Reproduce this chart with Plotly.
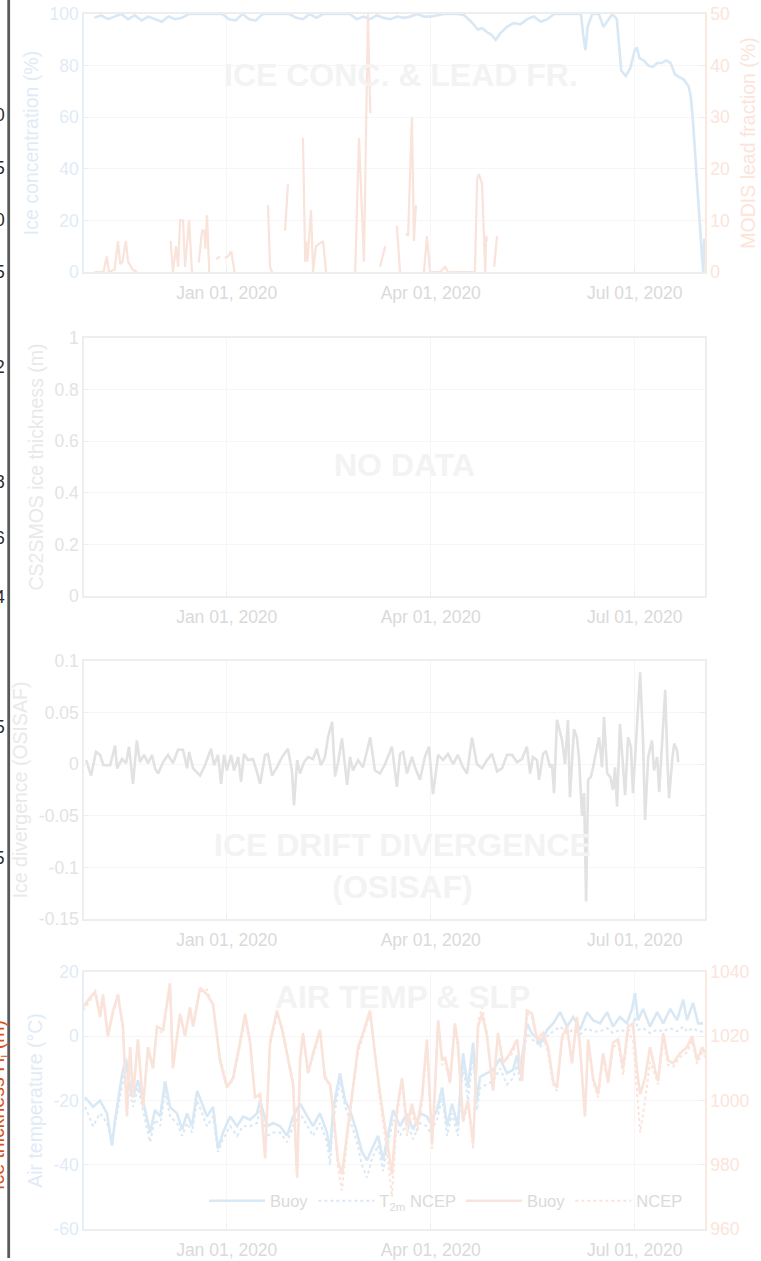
import pandas as pd
import plotly.graph_objects as go
from plotly.subplots import make_subplots

BASE = pd.Timestamp("2020-01-01")

# ---------------------------------------------------------------- data
# all series are indexed by days since 2020-01-01

# sea-ice concentration (%)
ic_days = [-59, -56, -53, -50, -47, -44, -41, -38, -35, -32, -29, -26, -23, -20, -17, -14,
           -11, -8, -5, -2, 1, 4, 7, 10, 13, 16, 19, 22, 25, 28, 31, 34, 37, 40, 43, 46,
           49, 52, 55, 58, 61, 64, 67, 70, 73, 76, 79, 82, 85, 88, 91, 94, 97, 100, 103,
           106, 109, 112, 114, 116, 118, 120, 122, 125, 128, 131, 134, 137, 140, 143, 146,
           149, 152, 155, 158, 159, 160, 161, 163, 166, 168, 170, 172, 174, 175, 176, 178,
           180, 182, 183, 184, 186, 188, 190, 192, 194, 196, 198, 200, 202, 204, 206, 207,
           208, 209, 210, 211, 212, 212.6, 213]
ic_vals = [98.5, 99.5, 98, 99, 100, 98, 99.5, 97.5, 99, 98, 97, 99, 98, 98.5, 100, 100,
           100, 100, 100, 100, 98, 97.5, 100, 98, 97.5, 100, 100, 100, 100, 100, 98.5, 98,
           100, 98.5, 100, 100, 100, 100, 100, 98, 99, 98, 99.5, 98.5, 98, 99, 98.5, 99,
           100, 99, 99, 99.5, 100, 100, 100, 99.5, 97, 94, 94.5, 93, 92, 90, 92.5, 95, 96.5,
           96, 98, 99, 97, 98, 100, 100, 100, 100, 100, 92, 86, 95, 100, 100, 95, 97.5, 100,
           98, 88, 78, 76, 79, 86, 87, 83, 82, 80, 79.5, 81, 81, 82, 81, 76.5, 75.5, 74.5,
           72, 68, 58, 45, 30, 16, 6, 0, 13]

# MODIS lead fraction (%), None marks missing days
lf_days = [-59, -57, -55, -53.5, -52.5, -50, -48.5, -47.5, -46.5, -45, -44, -42, -40, -39,
           -25, -24, -22.6, -21.7, -20.8, -19.5, -18.6, -16.8, -15.5, -14,
           -12.5, -11, -10, -9.5, -8.8, -7.8, -7,
           -4.8, -4, -3, -2,
           -0.8, 0.5, 2, 3.5, 4,
           18.4, 19.3, 20.2, 21,
           26, 27.3, 28,
           34, 35, 35.4, 36, 37.6, 38.5, 39.8, 43, 44.3, 45,
           57.3, 59, 61.2, 63, 64, 64.6, 65,
           68.4, 70.7, 71,
           75.9, 77.3, 78,
           80, 80.9, 82.6, 83.5, 84.4, 85,
           88, 89.3, 90.7, 95.2, 97.4, 98.7, 104, 110.7, 111.7, 112.5, 113.9, 115.3,
           115.7, 116.1, 117,
           119.3, 120.6]
lf_vals = [0, 0, 0, 3, 0, 0.5, 6, 1.5, 2, 6, 2, 0.5, 0, None,
           6, 0, 5, 1, 10, 10, 1, 10, 0, None,
           1.8, 8, 8, 4.5, 11, 0, None,
           2.5, 2.8, 3, None,
           2.7, 3, 4, 0, None,
           13, 1, 0, None,
           8, 17, None,
           26, 2, 6, 2, 12, 0, 5, 6, 0, None,
           0, 26, 2, 50, 31, 31, None,
           1, 5, None,
           9, 0, None,
           7.5, 7, 30, 6, 13, None,
           0, 7, 0, 0, 1, 0, 0, 0, 18, 19, 17, 0,
           7, 6, None,
           1, 7]

# OSISAF ice drift divergence
dv_days = [-62.7, -60.5, -58.3, -56.5, -55, -52, -49.8, -48.9, -46.7, -44.9, -43.6, -41.8,
           -40.1, -38.7, -36.9, -35.1, -33.3, -32, -30.6, -28.4, -26.2, -24, -21.7, -19.5,
           -17.7, -16.8, -15, -11.9, -9.7, -7, -5.7, -3.9, -2.5, -1.2, 0.1, 1.9, 3.3, 5.1,
           6.4, 7.7, 9.5, 11.7, 13, 14.9, 17.1, 18.4, 20.2, 22.4, 24.7, 27.3, 29.1, 30,
           31.4, 32.7, 34.5, 36.3, 38.5, 40.2, 42, 43.8, 45.2, 47, 48.3, 49.6, 51.4, 53.7,
           55, 56.3, 58.6, 60.8, 64, 66.1, 68.4, 70.6, 73.7, 75.9, 77.3, 78.7, 80.4, 82.6,
           84, 86.2, 88.4, 90.2, 92, 94.3, 96.5, 98.7, 101, 103.1, 105.4, 107.2, 109.4,
           111.6, 113.9, 116.1, 118.3, 120.6, 122.8, 125, 127.3, 129.5, 131.7, 133.9,
           135.3, 136.6, 138.4, 139.3, 141.1, 142.4, 144.2, 145.1, 146, 147.3, 149.6,
           150.9, 152.2, 153.1, 154.9, 156.2, 157.1, 158.5, 159.4, 160.3, 161.2, 162.5,
           163.4, 165.2, 166.1, 167.4, 168.3, 169.7, 171, 172.3, 173.2, 174.1, 175.4,
           176.8, 177.7, 179, 180.3, 181.2, 183, 184.4, 185.7, 186.6, 188, 189.7, 190.6,
           192, 192.9, 194.2, 195.6, 196.5, 197.3, 198.7, 199.6, 200.9, 201.4]
dv_vals = [0.004, -0.011, 0.012, 0.009, -0.001, -0.001, 0.018, -0.004, 0.005, 0.001, 0.017,
           -0.019, 0.023, 0.002, 0.009, 0.001, 0.009, -0.004, -0.009, 0.002, 0.009, 0.001,
           0.014, 0.014, -0.004, 0.012, -0.004, -0.011, -0.001, 0.015, -0.001, 0.009,
           -0.019, 0.009, -0.006, 0.009, -0.006, 0.007, -0.017, 0.01, 0.004, 0.005, -0.004,
           -0.019, 0.009, 0.01, -0.011, -0.003, 0.007, 0.015, -0.007, -0.04, 0.004, -0.009,
           0.002, 0.007, 0.005, 0.015, -0.001, 0.007, 0.026, 0.041, -0.012, 0.001, 0.025,
           -0.02, 0.007, -0.006, 0.004, -0.003, 0.026, -0.006, -0.009, 0.0, 0.017, -0.022,
           0.01, 0.012, -0.009, 0.007, -0.003, -0.015, 0.007, 0.017, -0.029, 0.009, 0.004,
           0.01, 0.0, 0.009, -0.003, -0.009, 0.026, 0.0, -0.004, 0.004, 0.01, -0.007,
           -0.004, 0.009, 0.009, 0.002, 0.005, 0.017, -0.009, 0.007, 0.004, -0.015, 0.01,
           0.013, -0.003, 0.0, -0.028, 0.043, 0.023, 0.0, 0.043, -0.032, 0.034, 0.026,
           0.007, -0.05, -0.028, -0.133, -0.015, -0.012, -0.003, 0.017, 0.026, -0.003,
           0.046, -0.009, -0.012, -0.025, -0.003, -0.041, 0.039, -0.003, -0.03, 0.026,
           0.017, -0.028, 0.039, 0.089, 0.023, -0.054, 0.007, 0.023, -0.006, 0.007, -0.027,
           0.023, 0.072, 0.007, -0.033, 0.004, 0.02, 0.013, 0.002]

# 2 m air temperature (deg C): buoy and NCEP reanalysis
at_days = [-63.2, -59.6, -56.5, -53.4, -51.2, -49.8, -47.6, -46.3, -44.9, -43.1, -41.8,
           -39.6, -37.3, -34.2, -32, -29.7, -27.5, -25.3, -22.2, -19.9, -17.7, -15.5, -13.2,
           -11, -8.8, -6.1, -3.9, -1.7, 1.5, 4.6, 7.3, 10.4, 13.5, 14.9, 18, 20.7, 23.8,
           26.9, 29.6, 32.7, 35.8, 38.5, 41.6, 44.7, 46.1, 47.4, 50.5, 52.8, 55, 58.1, 60.3,
           62.6, 64.8, 67.5, 69.7, 71.5, 74.2, 77.3, 80.4, 83.1, 86.2, 89.3, 90.7, 93.8,
           96.1, 98.3, 100.5, 103.1, 105.4, 107.6, 109.9, 111.6, 113, 116.1, 118.8, 121.9,
           125, 127.7, 129.5, 130.8, 133.9, 136.2, 138.4, 139.7, 142.9, 145.6, 148.7, 151.8,
           154.5, 157.6, 160.7, 163.4, 166.5, 169.7, 172.3, 175.4, 178.5, 180.8, 182.1,
           183.5, 185.7, 188.8, 192, 194.7, 197.8, 200.9, 203.6, 205.3, 208, 210.3, 212.5]
at_buoy = [-19, -22, -20, -24, -34, -26, -16, -10.5, -7, -16, -19, -13.7, -20, -30, -23, -25,
           -14, -22, -24, -29, -24, -28, -17, -21, -25, -22, -35, -30, -25, -28, -25, -26,
           -24, -20, -28, -27, -28, -31, -25, -21, -25, -28, -24, -30, -36, -23, -11.5, -20,
           -23, -30, -36, -38.6, -35, -31, -38.6, -32, -23, -28, -24, -29, -24, -25, -27,
           -23, -16, -28, -21, -28, -5.3, -16, -2, -20, -12.6, -11.5, -10.5, -7, -11.5,
           -10.5, -6, -11.5, 4, 0.7, -0.5, -2.5, 2, 4, 7.5, 3, 6, 2, 7.5, 5, 4, 7.5, 3, 6,
           4, 8.5, 13.4, 5, 8.5, 3, 7.5, 4, 8.5, 5, 11.4, 5, 10.4, 4, 4]
at_ncep = [-22, -28, -24, -27, -33, -28, -19, -14, -10, -18, -22, -16, -23, -33, -26, -28,
           -17, -25, -27, -31, -27, -30, -20, -24, -28, -25, -36, -32, -28, -31, -28, -28,
           -27, -23, -31, -30, -30, -33, -28, -24, -28, -31, -27, -33, -40, -27, -14, -22,
           -26, -33, -40, -44, -38, -34, -42, -35, -26, -31, -27, -32, -27, -28, -30, -26,
           -19, -31, -24, -31, -9, -20, -6, -23, -16, -15, -14, -10, -15, -13, -9, -14, 1,
           -1, -2, -3.5, 0, 1.5, 3, 1, 2, 0.5, 2.5, 1.5, 1.5, 2.5, 1, 2, 1.5, 2.5, 6, 2,
           2.5, 1, 2, 1.5, 2.5, 1.5, 3, 1.5, 2.5, 1.5, 1.5]

# sea-level pressure (hPa): buoy and NCEP reanalysis
slp_days = [-64.1, -61, -58.7, -56.5, -55.2, -53, -50.7, -48.5, -46.3, -44.5, -43.1, -41.8,
            -39.6, -37.3, -35.1, -32.9, -31.1, -28.4, -25.3, -24, -20.8, -18.6, -16.4, -15,
            -11.9, -8.8, -6.1, -3, 0.1, 2.8, 5.9, 8.2, 10.4, 12.6, 14.9, 17.1, 19.3, 22.4,
            24.7, 26.9, 29.6, 31.4, 32.7, 34, 36.3, 38.5, 41.6, 43.8, 46.1, 47.4, 49.6,
            51.4, 53.7, 56.3, 58.6, 60.8, 63.9, 66.1, 68.4, 71.5, 73.7, 75.9, 78.2, 80.4,
            82.6, 84.9, 87.1, 89.3, 91.6, 92.9, 94.3, 96.1, 97.4, 99.6, 101.8, 103.1, 105.4,
            107.6, 109.9, 112.1, 113.9, 116.1, 118.8, 121, 123.2, 126.4, 129.5, 131.7,
            133.9, 136.2, 138.4, 141.1, 143.3, 145.6, 147.3, 149.6, 151.8, 154, 156.2,
            157.6, 159.8, 161.2, 163.4, 165.6, 167.9, 170.1, 172.3, 174.6, 176.8, 179,
            181.2, 183, 184.4, 186.6, 188.8, 191.1, 192.4, 194.7, 196.9, 199.1, 202.2,
            205.3, 207.6, 209.8, 212.1, 213.4]
slp_buoy = [1029, 1032, 1033.7, 1026, 1033, 1020, 1028, 1032.7, 1023, 995, 1016.6, 1001,
            1019, 998, 1016.6, 1010, 1023, 1022, 1036.5, 1010, 1027, 1020, 1029, 1023, 1035,
            1033, 1030, 1012.5, 1004, 1007, 1018, 1027, 1018, 1001, 1002, 982, 1018, 1028,
            1022, 1014.7, 1005, 976, 1012.5, 1021, 1008.5, 1014.7, 1022, 1007, 1005, 997,
            981.4, 977, 990, 1004, 1016.6, 1021, 1028, 1014.7, 1002, 987.6, 977, 997, 1007,
            992, 999, 992, 1001, 1019, 986.7, 1004, 1025, 1012.5, 1013.5, 1006, 1024, 1018,
            994, 1000, 986.7, 1023, 1027, 1020, 1003, 1021, 1011.6, 1014.7, 1019, 1006,
            1028, 1027, 1019, 1021, 1016.6, 1006, 1004, 1020, 1023, 1011.6, 1026, 1016.6,
            995, 1019, 1007, 1002, 1014.7, 1006, 1018, 1019, 1010, 1023, 1024, 1009.5,
            1002, 1007, 1016.6, 1009.5, 1006, 1021, 1012.5, 1011.6, 1014.7, 1016.6, 1020,
            1012.5, 1016.6, 1014.7]
slp_ncep = [1028, 1031, 1034.5, 1027, 1032, 1021, 1027, 1033.5, 1022, 997, 1015, 1003,
            1018, 999, 1015, 1011, 1022, 1021, 1035.5, 1011, 1026, 1021, 1028, 1024, 1034,
            1034.5, 1029, 1013.5, 1005, 1006, 1017, 1026, 1019, 1002, 1001, 983, 1017, 1027,
            1023, 1015, 1006, 977, 1011, 1020, 1009, 1013.5, 1021, 1008, 1004, 998,
            979, 972, 988, 1003, 1015, 1020, 1027, 1015.5, 1000, 984, 970, 995, 1006,
            989, 997, 990, 999, 1017, 985, 1003, 1024, 1011, 1012, 1005, 1023, 1016,
            993, 999, 985, 1024.5, 1029, 1021, 1004, 1020, 1012.5, 1013.5, 1018, 1007,
            1027, 1026, 1018, 1020, 1015, 1005, 1003, 1019, 1022, 1012.5, 1025, 1015,
            996, 1018, 1006, 1001, 1013.5, 1005, 1016.5, 1018, 1008, 1021, 1019, 1003,
            990, 1000, 1012, 1008, 1005, 1019, 1011, 1010.5, 1013.5, 1015, 1018.5,
            1011.5, 1015, 1013.5]

date_ticks = ["2020-01-01", "2020-04-01", "2020-07-01"]
date_tick_text = ["Jan 01, 2020", "Apr 01, 2020", "Jul 01, 2020"]
x_range = ["2019-10-29 08:00", "2020-08-01 08:00"]

div_ticks = [-0.15, -0.1, -0.05, 0, 0.05, 0.1]
div_tick_text = ["-0.15", "-0.1", "-0.05", "0", "0.05", "0.1"]
thk_ticks = [0, 0.2, 0.4, 0.6, 0.8, 1]
thk_tick_text = ["0", "0.2", "0.4", "0.6", "0.8", "1"]
temp_ticks = [-60, -40, -20, 0, 20]
temp_tick_text = ["-60", "-40", "-20", "0", "20"]

# tick labels of the neighbouring figure that peek in at the left edge
edge_labels = ["0", "5", "0", "5", "2", "8", "6", "4", "5", ".5"]


def to_dates(days):
    return [BASE + pd.Timedelta(days=d) for d in days]


# ---------------------------------------------------------------- style
FONT = "Liberation Sans, Arial, Helvetica, sans-serif"
BLUE = "#d9e8f5"
BLUE_TXT = "#dfebf7"
ORANGE = "#fae3da"
ORANGE_TXT = "#fce4da"
GRAY = "#e2e2e2"
DATE_TXT = "#dadada"
GRAY_TXT = "#e3e3e3"
TITLE_GRAY = "#e9e9e9"
WATERMARK = "#f3f3f3"
GRID = "#f6f6f6"
BOX = "#eeeeee"
TICK = 17.5
TITLE = 19.5

W, H = 761, 1261
ML, MR, MT, MB = 84, 56, 14, 32
PH = H - MT - MB
PW = W - ML - MR


def ydom(top, bottom):
    return [1 - (bottom - MT) / PH, 1 - (top - MT) / PH]


def px_x(px):
    return (px - ML) / PW


def px_y(py):
    return 1 - (py - MT) / PH


fig = make_subplots(rows=4, cols=1,
                    specs=[[{"secondary_y": True}], [{}], [{}], [{"secondary_y": True}]])

# panel 1: ice concentration and lead fraction
fig.add_trace(go.Scatter(x=to_dates(ic_days), y=ic_vals, mode="lines",
                         line=dict(color=BLUE, width=2.6), showlegend=False),
              row=1, col=1, secondary_y=False)
fig.add_trace(go.Scatter(x=to_dates(lf_days), y=lf_vals, mode="lines", connectgaps=False,
                         line=dict(color=ORANGE, width=2.2), showlegend=False),
              row=1, col=1, secondary_y=True)

# panel 2: no thickness data -> empty axes
fig.add_trace(go.Scatter(x=[], y=[], mode="lines", showlegend=False), row=2, col=1)

# panel 3: divergence
fig.add_trace(go.Scatter(x=to_dates(dv_days), y=dv_vals, mode="lines",
                         line=dict(color=GRAY, width=2.6), showlegend=False),
              row=3, col=1)

# panel 4: air temperature and sea-level pressure
fig.add_trace(go.Scatter(x=to_dates(at_days), y=at_buoy, mode="lines", name="Buoy",
                         line=dict(color=BLUE, width=2.6)),
              row=4, col=1, secondary_y=False)
fig.add_trace(go.Scatter(x=to_dates(at_days), y=at_ncep, mode="lines",
                         name="T<sub>2m</sub> NCEP",
                         line=dict(color=BLUE, width=2, dash="dot")),
              row=4, col=1, secondary_y=False)
fig.add_trace(go.Scatter(x=to_dates(slp_days), y=slp_buoy, mode="lines", name="Buoy",
                         line=dict(color=ORANGE, width=2.6)),
              row=4, col=1, secondary_y=True)
fig.add_trace(go.Scatter(x=to_dates(slp_days), y=slp_ncep, mode="lines", name="NCEP",
                         line=dict(color=ORANGE, width=2, dash="dot")),
              row=4, col=1, secondary_y=True)

panels = [(14, 272), (338, 596), (661, 919), (972, 1229)]

for r in range(1, 5):
    fig.update_xaxes(type="date", range=x_range, tickvals=date_ticks, ticktext=date_tick_text,
                     showgrid=True, gridcolor=GRID, gridwidth=1, zeroline=False,
                     showline=True, mirror=True, linecolor=BOX, linewidth=1.5,
                     ticks="inside", ticklen=5, tickcolor=BOX, ticklabelstandoff=4,
                     tickfont=dict(family=FONT, size=TICK, color=DATE_TXT),
                     domain=[0, 1], automargin=False, row=r, col=1)
    fig.update_yaxes(domain=ydom(*panels[r - 1]), row=r, col=1)

ycommon = dict(showgrid=True, gridcolor=GRID, gridwidth=1, zeroline=False, showline=True,
               linewidth=1.5, ticks="inside", ticklen=5, automargin=False)

fig.update_yaxes(range=[0, 100], tickvals=[0, 20, 40, 60, 80, 100], linecolor="#e6eef7",
                 tickcolor="#e6eef7", tickfont=dict(family=FONT, size=TICK, color=BLUE_TXT),
                 title=dict(text="Ice concentration (%)", standoff=6,
                            font=dict(family=FONT, size=TITLE, color=BLUE_TXT)),
                 row=1, col=1, secondary_y=False, **ycommon)
fig.update_yaxes(range=[0, 50], tickvals=[0, 10, 20, 30, 40, 50], linecolor="#fbe8df",
                 tickcolor="#fbe8df", tickfont=dict(family=FONT, size=TICK, color=ORANGE_TXT),
                 title=dict(text="MODIS lead fraction (%)", standoff=12,
                            font=dict(family=FONT, size=TITLE, color=ORANGE_TXT)),
                 row=1, col=1, secondary_y=True,
                 **{**ycommon, "showgrid": False})
fig.update_yaxes(range=[0, 1], tickvals=thk_ticks, ticktext=thk_tick_text, linecolor=BOX,
                 tickcolor=BOX, mirror=True,
                 tickfont=dict(family=FONT, size=TICK, color=GRAY_TXT),
                 title=dict(text="CS2SMOS ice thickness (m)", standoff=6,
                            font=dict(family=FONT, size=TITLE, color=TITLE_GRAY)),
                 row=2, col=1, **ycommon)
fig.update_yaxes(range=[-0.15, 0.1], tickvals=div_ticks, ticktext=div_tick_text,
                 linecolor=BOX, tickcolor=BOX, mirror="ticks",
                 tickfont=dict(family=FONT, size=TICK, color=GRAY_TXT),
                 title=dict(text="Ice divergence (OSISAF)", standoff=6,
                            font=dict(family=FONT, size=TITLE, color=TITLE_GRAY)),
                 row=3, col=1, **ycommon)
fig.update_yaxes(range=[-60, 20], tickvals=temp_ticks, ticktext=temp_tick_text,
                 linecolor="#e6eef7", tickcolor="#e6eef7",
                 tickfont=dict(family=FONT, size=TICK, color=BLUE_TXT),
                 title=dict(text="Air temperature (°C)", standoff=6,
                            font=dict(family=FONT, size=TITLE, color=BLUE_TXT)),
                 row=4, col=1, secondary_y=False, **ycommon)
fig.update_yaxes(range=[960, 1040], tickvals=[960, 980, 1000, 1020, 1040],
                 linecolor="#fbe8df", tickcolor="#fbe8df",
                 tickfont=dict(family=FONT, size=TICK, color=ORANGE_TXT),
                 row=4, col=1, secondary_y=True, **{**ycommon, "showgrid": False})

# faint panel captions
captions = [
    ("ICE CONC. &amp; LEAD FR.", 401, 75),
    ("NO DATA", 404, 465),
    ("ICE DRIFT DIVERGENCE<br>(OSISAF)", 402, 866),
    ("AIR TEMP &amp; SLP", 402, 997),
]
annotations = []
for text, cx, cy in captions:
    annotations.append(dict(text=f"<b>{text}</b>", x=px_x(cx), y=px_y(cy), xref="paper",
                            yref="paper", showarrow=False, xanchor="center", yanchor="middle",
                            font=dict(family=FONT, size=32, color=WATERMARK)))

# sliver of the neighbouring figure at the left edge
edge_rows = [115, 168, 220, 272, 367, 482, 538, 597, 727, 858]
for lab, py in zip(edge_labels, edge_rows):
    annotations.append(dict(text=lab, x=px_x(6.5), y=px_y(py), xref="paper", yref="paper",
                            showarrow=False, xanchor="right", yanchor="middle",
                            font=dict(family=FONT, size=TICK, color="#2b2b2b")))
annotations.append(dict(text="Ice thickness H<sub>i</sub> (m)", x=px_x(-2), y=px_y(1105),
                        xref="paper", yref="paper", showarrow=False, textangle=-90,
                        xanchor="center", yanchor="middle",
                        font=dict(family=FONT, size=TITLE, color="#d95319")))

fig.update_layout(
    width=W, height=H,
    margin=dict(l=ML, r=MR, t=MT, b=MB, pad=0),
    paper_bgcolor="white", plot_bgcolor="white",
    font=dict(family=FONT),
    annotations=annotations,
    shapes=[dict(type="line", xref="paper", yref="paper", x0=px_x(8.7), x1=px_x(8.7),
                 y0=px_y(1258), y1=px_y(-5), line=dict(color="#5a5a5a", width=2.8))],
    legend=dict(orientation="h", x=px_x(204), y=px_y(1201), xanchor="left",
                yanchor="middle", bgcolor="rgba(0,0,0,0)", itemwidth=56,
                font=dict(family=FONT, size=16.5, color=DATE_TXT), tracegroupgap=0),
)

fig.write_html("out.html")
